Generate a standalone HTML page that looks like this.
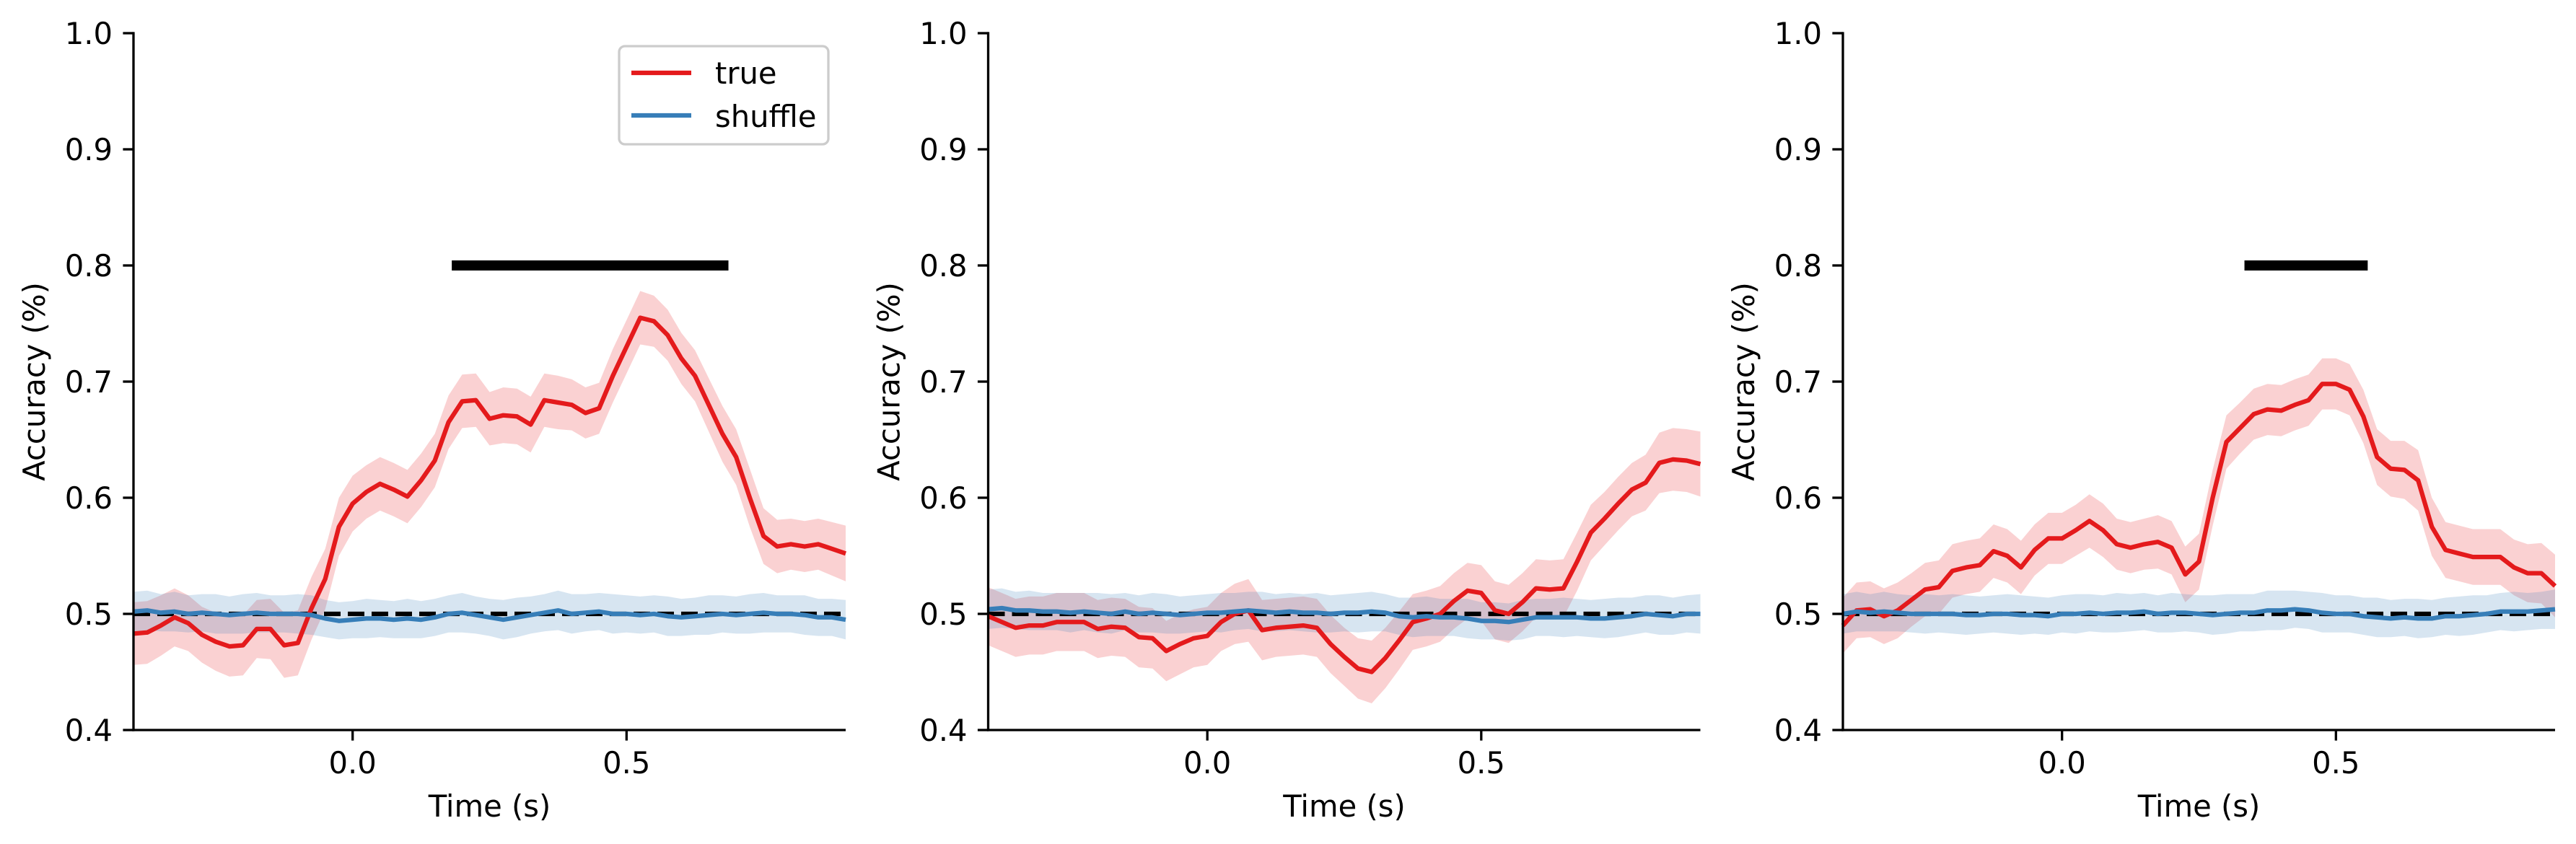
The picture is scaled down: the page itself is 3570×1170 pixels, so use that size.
<!DOCTYPE html>
<html><head><meta charset="utf-8">
<style>
html,body{margin:0;padding:0;background:#fff;}
svg{display:block;font-family:"DejaVu Sans","Liberation Sans",sans-serif;}
</style></head>
<body>
<svg id="fig" width="3570" height="1170" viewBox="0 0 3570 1170" xmlns="http://www.w3.org/2000/svg"></svg>
<script>
const times = [];
for (let i = 0; i <= 52; i++) times.push(-0.4 + i * 0.025);

const trueP1 = [0.483,0.484,0.49,0.497,0.492,0.482,0.476,0.472,0.473,0.487,0.487,0.473,0.475,0.505,0.53,0.575,0.595,0.605,0.612,0.607,0.601,0.615,0.632,0.665,0.683,0.684,0.668,0.671,0.67,0.663,0.684,0.682,0.68,0.673,0.677,0.705,0.73,0.755,0.752,0.74,0.72,0.705,0.68,0.655,0.635,0.6,0.567,0.558,0.56,0.558,0.56,0.556,0.552];
const trueP2 = [0.498,0.493,0.488,0.49,0.49,0.493,0.493,0.493,0.487,0.489,0.488,0.48,0.479,0.468,0.474,0.479,0.481,0.493,0.5,0.503,0.486,0.488,0.489,0.49,0.488,0.474,0.463,0.453,0.45,0.462,0.477,0.493,0.496,0.5,0.511,0.52,0.518,0.503,0.5,0.51,0.522,0.521,0.522,0.545,0.57,0.582,0.595,0.607,0.613,0.63,0.633,0.632,0.629];
const trueP3 = [0.49,0.503,0.504,0.498,0.503,0.512,0.521,0.523,0.537,0.54,0.542,0.554,0.55,0.54,0.555,0.565,0.565,0.572,0.58,0.572,0.56,0.557,0.56,0.562,0.557,0.534,0.545,0.6,0.648,0.66,0.672,0.676,0.675,0.68,0.684,0.698,0.698,0.693,0.67,0.635,0.625,0.624,0.615,0.575,0.555,0.552,0.549,0.549,0.549,0.54,0.535,0.535,0.524];
const semP1 = [0.027,0.027,0.026,0.025,0.024,0.024,0.025,0.026,0.026,0.025,0.026,0.028,0.028,0.027,0.026,0.025,0.024,0.023,0.023,0.023,0.023,0.023,0.023,0.023,0.023,0.023,0.023,0.024,0.024,0.024,0.023,0.023,0.022,0.022,0.022,0.023,0.023,0.023,0.022,0.022,0.022,0.022,0.023,0.024,0.024,0.025,0.024,0.023,0.022,0.022,0.022,0.023,0.024];
const semP2 = [0.025,0.025,0.025,0.025,0.025,0.025,0.025,0.025,0.025,0.025,0.025,0.026,0.026,0.026,0.026,0.025,0.025,0.025,0.026,0.027,0.026,0.025,0.025,0.025,0.025,0.025,0.025,0.026,0.027,0.026,0.025,0.024,0.024,0.024,0.024,0.024,0.024,0.025,0.025,0.025,0.025,0.025,0.025,0.025,0.024,0.023,0.023,0.023,0.024,0.026,0.027,0.027,0.028];
const semP3 = [0.024,0.024,0.024,0.024,0.024,0.023,0.023,0.023,0.023,0.023,0.023,0.023,0.023,0.023,0.022,0.022,0.022,0.022,0.023,0.023,0.022,0.022,0.022,0.023,0.023,0.024,0.024,0.024,0.023,0.022,0.022,0.022,0.022,0.022,0.022,0.022,0.022,0.022,0.023,0.024,0.024,0.025,0.026,0.025,0.024,0.024,0.024,0.024,0.024,0.024,0.025,0.026,0.027];
const shufP1 = [0.502,0.503,0.501,0.502,0.5,0.501,0.5,0.499,0.5,0.501,0.5,0.5,0.5,0.499,0.496,0.494,0.495,0.496,0.496,0.495,0.496,0.495,0.497,0.5,0.501,0.499,0.497,0.495,0.497,0.499,0.501,0.503,0.5,0.501,0.502,0.5,0.5,0.499,0.5,0.498,0.497,0.498,0.499,0.5,0.499,0.5,0.501,0.5,0.5,0.499,0.497,0.497,0.495];
const shufP2 = [0.504,0.505,0.503,0.503,0.502,0.502,0.501,0.502,0.501,0.5,0.502,0.5,0.501,0.5,0.499,0.5,0.501,0.501,0.502,0.503,0.502,0.501,0.502,0.501,0.501,0.5,0.501,0.501,0.502,0.501,0.498,0.497,0.498,0.497,0.497,0.496,0.494,0.494,0.493,0.495,0.497,0.497,0.497,0.497,0.496,0.496,0.497,0.498,0.5,0.499,0.498,0.5,0.5];
const shufP3 = [0.5,0.502,0.501,0.502,0.501,0.5,0.5,0.5,0.5,0.499,0.499,0.5,0.5,0.499,0.499,0.498,0.5,0.5,0.501,0.5,0.501,0.501,0.502,0.5,0.501,0.501,0.5,0.499,0.5,0.501,0.501,0.503,0.503,0.504,0.503,0.501,0.5,0.5,0.498,0.497,0.496,0.497,0.496,0.496,0.498,0.498,0.499,0.5,0.502,0.502,0.502,0.503,0.504];
const shufSem = [0.017,0.017,0.016,0.017,0.016,0.016,0.017,0.016,0.017,0.017,0.016,0.016,0.017,0.017,0.016,0.016,0.016,0.017,0.016,0.016,0.017,0.016,0.016,0.016,0.017,0.016,0.016,0.017,0.017,0.016,0.016,0.017,0.017,0.016,0.016,0.017,0.016,0.016,0.016,0.017,0.016,0.016,0.017,0.016,0.016,0.017,0.017,0.016,0.016,0.017,0.016,0.016,0.017];
const sigStart = [0.181, null, 0.333];
const sigEnd = [0.686, null, 0.558];
const yTicks = [0.4,0.5,0.6,0.7,0.8,0.9,1.0];
const yTickLabels = ["0.4","0.5","0.6","0.7","0.8","0.9","1.0"];
const xTicks = [0.0, 0.5];
const xTickLabels = ["0.0","0.5"];

const trueSeries = [trueP1, trueP2, trueP3];
const semSeries = [semP1, semP2, semP3];
const shufSeries = [shufP1, shufP2, shufP3];

const NS = "http://www.w3.org/2000/svg";
const svg = document.getElementById('fig');
const panelLeft = [185, 1369.5, 2554];
const W = 987, TOP = 46, BOT = 1012;
const XMIN = -0.4, XMAX = 0.9, YMIN = 0.4, YMAX = 1.0;
const RED = "#e41a1c", BLUE = "#377eb8";

function mk(tag, attrs, parent) {
  const e = document.createElementNS(NS, tag);
  for (const k in attrs) e.setAttribute(k, attrs[k]);
  (parent || svg).appendChild(e);
  return e;
}

for (let p = 0; p < 3; p++) {
  const L = panelLeft[p];
  const xs = t => L + (t - XMIN) / (XMAX - XMIN) * W;
  const ys = v => BOT - (v - YMIN) / (YMAX - YMIN) * (BOT - TOP);
  const g = mk('g', {});
  
  

  const tv = trueSeries[p], sv = semSeries[p];
  let d = '';
  times.forEach((t, i) => d += (i ? 'L' : 'M') + xs(t).toFixed(1) + ',' + ys(tv[i] + sv[i]).toFixed(1));
  for (let i = times.length - 1; i >= 0; i--) d += 'L' + xs(times[i]).toFixed(1) + ',' + ys(tv[i] - sv[i]).toFixed(1);
  const tb = mk('path', {d: d + 'Z', fill: RED, 'fill-opacity': 0.2, stroke: 'none'}, g);
  
  

  const hv = shufSeries[p];
  d = '';
  times.forEach((t, i) => d += (i ? 'L' : 'M') + xs(t).toFixed(1) + ',' + ys(hv[i] + shufSem[i]).toFixed(1));
  for (let i = times.length - 1; i >= 0; i--) d += 'L' + xs(times[i]).toFixed(1) + ',' + ys(hv[i] - shufSem[i]).toFixed(1);
  const sb = mk('path', {d: d + 'Z', fill: BLUE, 'fill-opacity': 0.2, stroke: 'none'}, g);
  
  

  const ch = mk('line', {x1: xs(XMIN), x2: xs(XMAX), y1: ys(0.5), y2: ys(0.5), stroke: '#000', 'stroke-width': 6.25, 'stroke-dasharray': '23 10'}, g);
  
  

  const tl = mk('polyline', {points: times.map((t, i) => xs(t).toFixed(1) + ',' + ys(tv[i]).toFixed(1)).join(' '), fill: 'none', stroke: RED, 'stroke-width': 6.25, 'stroke-linejoin': 'round'}, g);
  
  

  const sl = mk('polyline', {points: times.map((t, i) => xs(t).toFixed(1) + ',' + ys(hv[i]).toFixed(1)).join(' '), fill: 'none', stroke: BLUE, 'stroke-width': 6.25, 'stroke-linejoin': 'round'}, g);
  
  

  if (sigStart[p] !== null) {
    const sg = mk('line', {x1: xs(sigStart[p]), x2: xs(sigEnd[p]), y1: ys(0.8), y2: ys(0.8), stroke: '#000', 'stroke-width': 14}, g);
    
    
  }

  const ya = mk('line', {x1: L, x2: L, y1: TOP - 1.6, y2: BOT + 1.6, stroke: '#000', 'stroke-width': 3.3}, g);
  
  
  const xa = mk('line', {x1: L - 1.6, x2: L + W, y1: BOT, y2: BOT, stroke: '#000', 'stroke-width': 3.3}, g);
  
  

  yTicks.forEach((v, i) => {
    const tk = mk('line', {x1: L - 14.6, x2: L, y1: ys(v), y2: ys(v), stroke: '#000', 'stroke-width': 3.3}, g);
    
    
    const tx = mk('text', {x: L - 29, y: ys(v) + 15, 'text-anchor': 'end', 'font-size': 41.7, fill: '#000'}, g);
    tx.textContent = yTickLabels[i];
    
    
  });
  xTicks.forEach((v, i) => {
    const tk = mk('line', {x1: xs(v), x2: xs(v), y1: BOT, y2: BOT + 14.6, stroke: '#000', 'stroke-width': 3.3}, g);
    
    
    const tx = mk('text', {x: xs(v), y: BOT + 60, 'text-anchor': 'middle', 'font-size': 41.7, fill: '#000'}, g);
    tx.textContent = xTickLabels[i];
    
    
  });

  const xl = mk('text', {x: L + W / 2, y: 1132, 'text-anchor': 'middle', 'font-size': 41.7, fill: '#000'}, g);
  xl.textContent = 'Time (s)';
  
  
  const yl = mk('text', {x: 0, y: 0, 'text-anchor': 'middle', 'font-size': 41.7, fill: '#000', transform: 'translate(' + (L - 123) + ',' + ((TOP + BOT) / 2) + ') rotate(-90)'}, g);
  yl.textContent = 'Accuracy (%)';
  
  
}

const lg = mk('g', {});


const lb = mk('rect', {x: 858, y: 64, width: 290, height: 136, rx: 8, fill: '#fff', 'fill-opacity': 0.8, stroke: '#cccccc', 'stroke-width': 3.3}, lg);


const e1 = mk('line', {x1: 875, x2: 958, y1: 101, y2: 101, stroke: RED, 'stroke-width': 6.25}, lg);


const t1 = mk('text', {x: 991, y: 116, 'font-size': 41.7, fill: '#000'}, lg);
t1.textContent = 'true';


const e2 = mk('line', {x1: 875, x2: 958, y1: 160, y2: 160, stroke: BLUE, 'stroke-width': 6.25}, lg);


const t2 = mk('text', {x: 991, y: 176, 'font-size': 41.7, fill: '#000'}, lg);
t2.textContent = 'shuffle';


</script>
</body></html>
